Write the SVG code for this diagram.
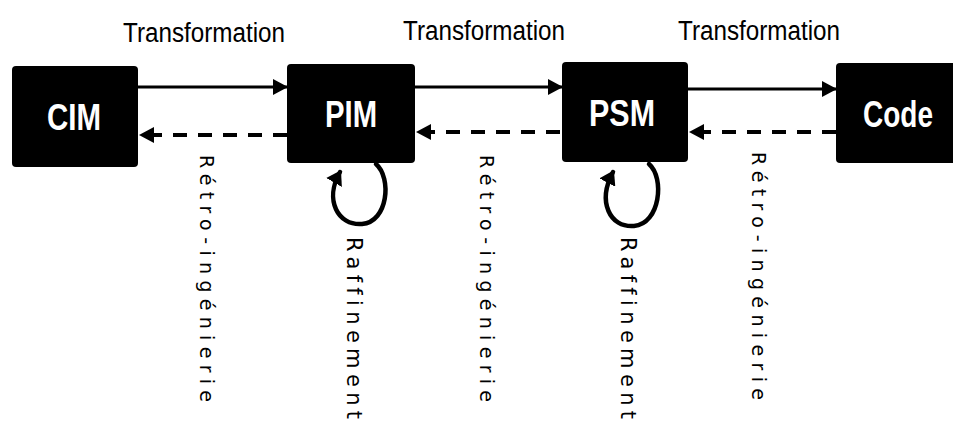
<svg xmlns="http://www.w3.org/2000/svg" width="953" height="423" viewBox="0 0 953 423">
<style>
.box{fill:#000;}
.lbl{fill:#fff;font-family:"Liberation Sans",Arial,sans-serif;font-weight:bold;font-size:36px;text-anchor:middle;}
.tr{fill:#000;font-family:"Liberation Sans",Arial,sans-serif;font-size:27px;}
.rot{fill:#000;font-family:"DejaVu Sans",Verdana,sans-serif;font-size:19px;font-variant-ligatures:none;}
.raf{fill:#000;font-family:"DejaVu Sans",Verdana,sans-serif;font-size:21px;font-variant-ligatures:none;}
.solid{stroke:#000;stroke-width:3;fill:none;}
.dash{stroke:#000;stroke-width:4;fill:none;stroke-dasharray:14 11;}
.loop{stroke:#000;stroke-width:4.5;fill:none;stroke-linecap:round;}
</style>
<defs>
<marker id="ah" markerUnits="userSpaceOnUse" markerWidth="15" markerHeight="16" refX="14" refY="8" orient="auto">
<path d="M0,0 L15,8 L0,16 z" fill="#000"/>
</marker>
<marker id="lh" markerUnits="userSpaceOnUse" markerWidth="16" markerHeight="18" refX="12" refY="9" orient="auto">
<path d="M0,0 L14,9 L0,18 z" fill="#000"/>
</marker>
</defs>
<rect width="953" height="423" fill="#fff"/>
<g id="connectors">
<line class="solid" x1="138" y1="87" x2="287" y2="87" marker-end="url(#ah)"/>
<line class="dash" x1="287" y1="135" x2="140" y2="135" marker-end="url(#ah)"/>
<line class="solid" x1="415" y1="87" x2="562" y2="87" marker-end="url(#ah)"/>
<line class="dash" x1="560" y1="132" x2="417" y2="132" marker-end="url(#ah)"/>
<line class="solid" x1="688" y1="89" x2="836" y2="89" marker-end="url(#ah)"/>
<line class="dash" x1="836" y1="132" x2="690" y2="132" marker-end="url(#ah)"/>
<path class="loop" d="M376 164 C392 178 388 222 362 224 C338 226 324 200 340 172" marker-end="url(#lh)"/>
<path class="loop" d="M649 164 C665 178 660 224 634 226 C610 228 597 202 613 172" marker-end="url(#lh)"/>
</g>
<g id="labels">
<text class="tr" x="123" y="42" textLength="162" lengthAdjust="spacingAndGlyphs">Transformation</text>
<text class="tr" x="403" y="40" textLength="162" lengthAdjust="spacingAndGlyphs">Transformation</text>
<text class="tr" x="678" y="40" textLength="162" lengthAdjust="spacingAndGlyphs">Transformation</text>
<text class="rot" transform="translate(200,155) rotate(90)" textLength="247" lengthAdjust="spacing">Rétro-ingénierie</text>
<text class="rot" transform="translate(480,155) rotate(90)" textLength="247" lengthAdjust="spacing">Rétro-ingénierie</text>
<text class="rot" transform="translate(752,152) rotate(90)" textLength="248" lengthAdjust="spacing">Rétro-ingénierie</text>
<text class="raf" transform="translate(347,237) rotate(90)" textLength="182" lengthAdjust="spacing">Raffinement</text>
<text class="raf" transform="translate(621,237) rotate(90)" textLength="182" lengthAdjust="spacing">Raffinement</text>
</g>
<g id="CIM">
<rect class="box" x="12" y="66" width="126" height="101" rx="4"/>
<text class="lbl" x="74" y="130" textLength="54" lengthAdjust="spacingAndGlyphs">CIM</text>
</g>
<g id="PIM">
<rect class="box" x="287" y="64" width="128" height="99" rx="4"/>
<text class="lbl" x="351" y="127" textLength="52" lengthAdjust="spacingAndGlyphs">PIM</text>
</g>
<g id="PSM">
<rect class="box" x="562" y="62" width="126" height="100" rx="4"/>
<text class="lbl" x="622" y="126" textLength="66" lengthAdjust="spacingAndGlyphs">PSM</text>
</g>
<g id="Code">
<rect class="box" x="836" y="63" width="125" height="100" rx="4"/>
<text class="lbl" x="898" y="127" textLength="70" lengthAdjust="spacingAndGlyphs">Code</text>
</g>
</svg>
